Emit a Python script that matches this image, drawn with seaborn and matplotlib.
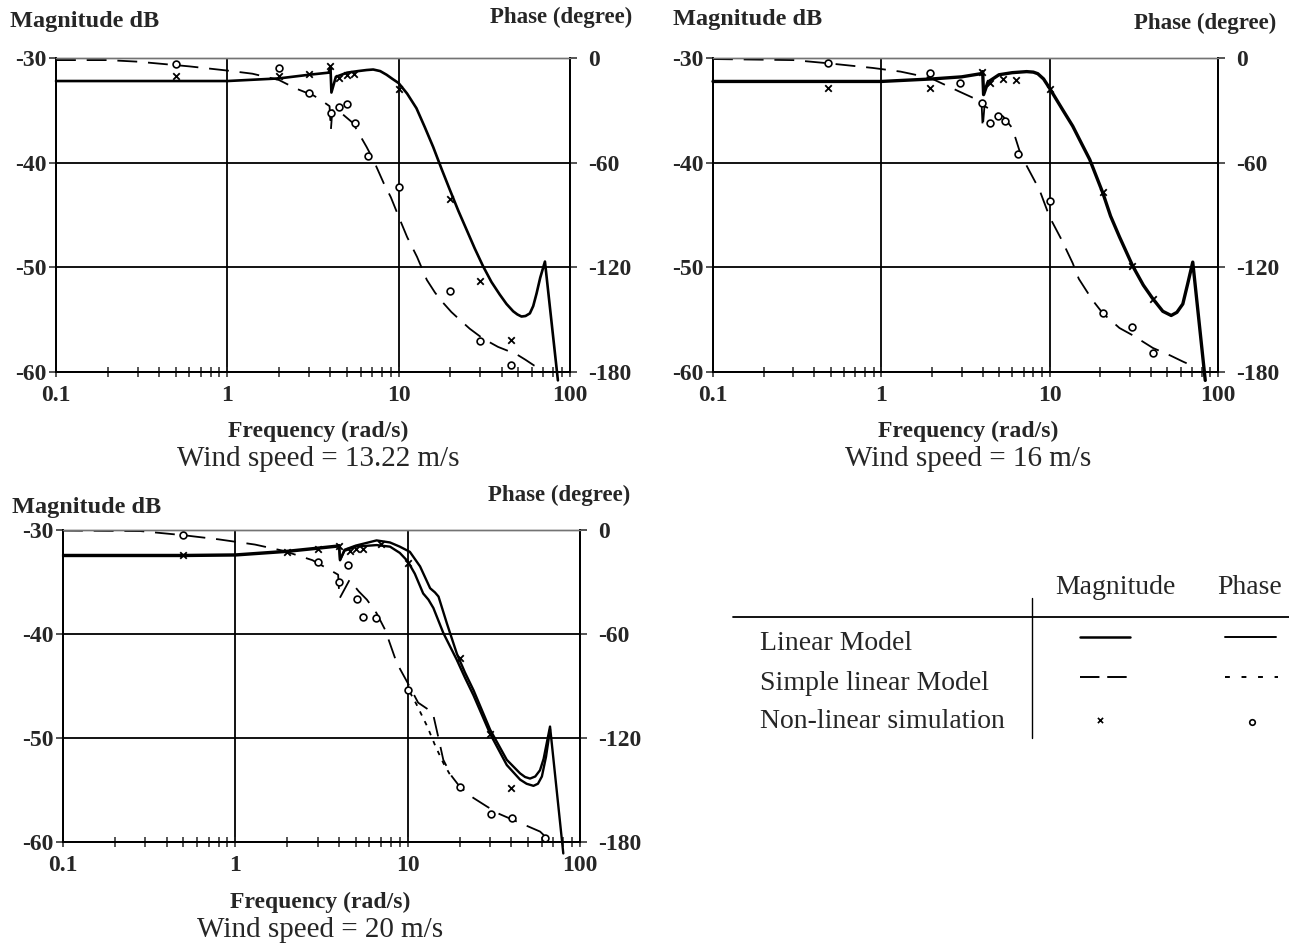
import matplotlib
matplotlib.use("Agg")
import matplotlib.pyplot as plt
import seaborn as sns

W, H = 1289, 950

# --- данные: частота (rad/s), амплитуда (dB), фаза (degree) ---
XTICKS = [0.1, 1, 10, 100]
XTICK_LABELS = ["0.1", "1", "10", "100"]
MAG_TICKS = [-60, -50, -40, -30]
PHASE_TICKS = [-180, -120, -60, 0]

# Wind speed = 13.22 m/s
P1_MAG_F = [0.1, 0.5, 1, 2, 3, 3.9, 4.0, 4.05, 4.3, 5, 5.8, 6.5, 7.1, 7.8, 8.5, 9.2, 10, 11.2,
            12.7, 14.2, 15.9, 17.8, 19.9, 22.3, 24.9, 27.8, 31.1, 34.8, 38.9, 42.6, 46.6, 49.3,
            52.1, 55, 58.3, 61, 63.8, 67, 71.4, 85]
P1_MAG_DB = [-32.2, -32.2, -32.2, -31.95, -31.6, -31.4, -30.9, -33.3, -31.8, -31.4, -31.25, -31.15,
             -31.1, -31.25, -31.6, -32.0, -32.4, -33.4, -34.8, -36.6, -38.5, -40.6, -42.6, -44.6,
             -46.4, -48.2, -49.9, -51.4, -52.6, -53.5, -54.2, -54.5, -54.7, -54.65, -54.4, -53.7,
             -52.5, -51.0, -49.45, -60.8]
P1_PH_F = [0.1, 0.2, 0.3, 0.6, 1.0, 1.4, 2.0, 2.5, 3.2, 3.5, 3.95, 4.02, 4.1, 4.5, 5.4, 6.5, 7.1,
           8.2, 9.0, 10.2, 11.2, 12.8, 14.6, 16.3, 18.2, 20.3, 22.7, 26, 31, 38, 48.7, 55, 62, 68]
P1_PH_DEG = [-1.2, -1.2, -2.1, -4.8, -7.2, -9.0, -12.6, -17.4, -21.6, -24.0, -27.6, -41.4, -30.0,
             -30.6, -37.2, -51.0, -58.2, -72.0, -79.8, -93.0, -102.6, -114.0, -127.2, -134.5,
             -140.4, -145.6, -150.0, -155.2, -160.8, -165.6, -169.8, -173.0, -176.4, -178.2]
P1_CIR_F = [0.5, 2.0, 3.0, 4.05, 4.5, 5.0, 5.55, 6.6, 10, 20, 30, 45]
P1_CIR_DEG = [-3.6, -6.0, -19.8, -31.8, -28.2, -26.4, -37.2, -56.4, -73.8, -133.8, -162.0, -175.8]
P1_X_F = [0.5, 2.0, 3.0, 4.0, 4.5, 5.0, 5.5, 10, 20, 30, 45]
P1_X_DB = [-31.75, -31.7, -31.5, -30.8, -31.9, -31.6, -31.5, -33.0, -43.5, -51.3, -56.9]

# Wind speed = 16 m/s
P2_MAG_F = [0.1, 1, 2, 3, 3.9, 4.0, 4.05, 4.3, 5, 6, 7.3, 8.0, 8.5, 9.2, 10, 11, 12, 13.7, 15.5,
            17.3, 20.7, 23, 26, 31.2, 36, 41, 47, 52.7, 57, 61.8, 66, 70.8, 84]
P2_MAG_DB = [-32.24, -32.24, -32.0, -31.8, -31.5, -31.3, -33.5, -32.3, -31.6, -31.4, -31.3, -31.35,
             -31.5, -32.0, -32.9, -34.0, -35.0, -36.5, -38.2, -39.7, -42.9, -45.1, -47.1, -49.9,
             -51.7, -53.0, -54.2, -54.6, -54.3, -53.5, -51.6, -49.5, -60.8]
P2_PH_F = [0.1, 0.3, 0.48, 0.89, 1.3, 1.95, 2.9, 3.5, 3.94, 4.0, 4.1, 4.8, 5.3, 6.0, 6.6, 7.3,
           8.7, 10, 11.8, 13.7, 14.9, 17.9, 20.7, 26, 31.2, 41, 52, 61.8, 68]
P2_PH_DEG = [-0.6, -1.2, -3.0, -5.7, -7.8, -11.4, -19.2, -22.8, -25.8, -40.2, -27.6, -31.2, -33.6,
             -40.2, -52.8, -61.8, -75.6, -91.2, -104.4, -117.6, -126.6, -138.6, -146.4, -154.8,
             -159.0, -166.2, -170.5, -174.0, -175.8]
P2_CIR_F = [0.48, 1.94, 2.92, 3.94, 4.4, 4.93, 5.45, 6.5, 10, 20.7, 31, 41]
P2_CIR_DEG = [-3.0, -8.4, -14.4, -25.8, -37.2, -33.0, -36.0, -55.2, -82.2, -146.4, -154.2, -169.2]
P2_X_F = [0.48, 1.94, 3.94, 4.4, 5.3, 6.3, 10, 20.7, 31, 41]
P2_X_DB = [-32.9, -32.9, -31.3, -32.4, -32.0, -32.1, -33.0, -42.8, -49.9, -53.0]

# Wind speed = 20 m/s
P3_MAG_A_F = [0.1, 0.5, 1, 2, 3, 3.9, 4.0, 4.05, 4.3, 5, 6.6, 7.9, 9.0, 10.3, 11.8, 13.5, 14.4,
              15.1, 16.9, 19.3, 21.5, 24.1, 30.1, 37.6, 44.9, 48, 51.3, 55, 58.6, 61.5, 64.1, 67, 80]
P3_MAG_A_DB = [-32.4, -32.4, -32.35, -32.0, -31.7, -31.5, -31.45, -32.9, -31.9, -31.5, -31.0, -31.2,
               -31.6, -32.1, -33.5, -35.6, -36.0, -36.4, -39.0, -41.9, -43.7, -45.4, -49.2, -52.1,
               -53.4, -53.75, -53.9, -53.7, -53.1, -52.0, -50.5, -48.9, -61.1]
P3_MAG_B_F = [0.1, 0.5, 1, 2, 3, 3.9, 4.0, 4.05, 4.3, 5, 6.6, 7.9, 9.0, 10, 11.0, 12.3, 13.2, 14.1,
              16.1, 19.3, 21.5, 24.1, 30.1, 37.6, 44.9, 49, 53.7, 57, 60.1, 63.5, 67]
P3_MAG_B_DB = [-32.5, -32.5, -32.45, -32.1, -31.8, -31.6, -31.5, -32.9, -32.0, -31.6, -31.45, -31.6,
               -32.2, -33.0, -34.2, -36.1, -36.7, -37.5, -39.9, -42.5, -44.2, -45.9, -49.6, -52.6,
               -54.0, -54.4, -54.6, -54.4, -53.7, -51.8, -49.2]
P3_PH_F = [0.1, 0.28, 0.5, 0.8, 1.3, 1.9, 2.8, 3.5, 3.95, 4.02, 4.6, 5.2, 5.8, 6.6, 7.4, 8.65, 10,
           11.5, 13, 14.0, 15.0, 16.1, 18, 20.1, 24, 28.9, 34, 41.2, 50, 58.7, 64]
P3_PH_DEG = [-0.3, -0.6, -3.0, -5.4, -8.4, -12.0, -17.4, -22.8, -25.8, -39.6, -28.8, -35.4, -40.2,
             -48.0, -57.6, -76.8, -88.2, -99.6, -103.2, -105.6, -118.8, -132.6, -142.0, -148.2,
             -154.5, -159.6, -163.8, -167.4, -171.0, -174.0, -177.6]
P3_DOT_F = [10.3, 11.2, 13, 14.5, 16.1, 18]
P3_DOT_DEG = [-93.6, -100.2, -113.4, -124.8, -134.4, -142.8]
P3_CIR_F = [0.5, 3.0, 3.98, 4.53, 5.07, 5.53, 6.56, 10, 20.1, 30.3, 40.2, 62.7]
P3_CIR_DEG = [-3.0, -18.6, -30.0, -20.4, -39.6, -50.4, -51.0, -92.4, -148.2, -163.8, -166.2, -177.6]
P3_X_F = [0.5, 2.0, 3.0, 4.0, 4.6, 5.0, 5.5, 7.0, 10, 20, 30, 40]
P3_X_DB = [-32.4, -32.1, -31.8, -31.5, -32.0, -31.8, -31.8, -31.3, -33.2, -42.3, -49.6, -54.8]

TITLES = ["Wind speed = 13.22 m/s", "Wind speed = 16 m/s", "Wind speed = 20 m/s"]

sns.set_style("white")
plt.rcParams['font.family'] = ['Liberation Serif', 'DejaVu Serif']
plt.rcParams['axes.unicode_minus'] = False

DASH = (0, (11, 6))
DOT = (0, (2.5, 3.5))
TICK_FS = 17


def px_rect(left, top, right, bottom):
    # прямоугольник в пикселях -> координаты фигуры
    return [left / W, 1 - bottom / H, (right - left) / W, (bottom - top) / H]


def ftext(x, y, s, **kw):
    fig.text(x / W, 1 - y / H, s, **kw)


def setup_axes(rect):
    ax = fig.add_axes(rect)
    ax.set_xscale('log')
    ax.set_xlim(0.1, 100)
    ax.set_ylim(-60, -30)
    ax2 = ax.twinx()
    ax2.set_ylim(-180, 0)
    ax.set_xticks(XTICKS)
    ax.set_xticklabels(XTICK_LABELS)
    ax.set_yticks(MAG_TICKS)
    ax.set_yticklabels([str(t) for t in MAG_TICKS])
    ax2.set_yticks(PHASE_TICKS)
    ax2.set_yticklabels([str(t) for t in PHASE_TICKS])
    ax.tick_params(axis='x', which='both', direction='inout', length=7, width=1.1,
                   labelsize=TICK_FS, pad=6, bottom=True, top=False)
    ax.tick_params(axis='y', direction='out', length=5, width=1.1, labelsize=TICK_FS, pad=2, left=True)
    ax2.tick_params(axis='y', direction='out', length=5, width=1.1, labelsize=TICK_FS, pad=8, right=True)
    for lab in ax.get_xticklabels() + ax.get_yticklabels() + ax2.get_yticklabels():
        lab.set_fontweight('bold')
    ax.grid(True, which='major', color='black', lw=1.3)
    ax.grid(False, which='minor')
    for a in (ax, ax2):
        for side, sp in a.spines.items():
            sp.set_color('black')
            sp.set_linewidth(1.3)
        a.spines['top'].set_color('0.45')
        a.spines['top'].set_linewidth(1.0)
    return ax, ax2


def draw_mag(ax, f, db, lw=1.9):
    sns.lineplot(x=f, y=db, ax=ax, color='black', linewidth=lw, sort=False,
                 estimator=None, clip_on=False)


def draw_phase(ax2, f, deg, ls=DASH, lw=1.3):
    sns.lineplot(x=f, y=deg, ax=ax2, color='black', linewidth=lw, sort=False,
                 estimator=None, linestyle=ls)


def draw_points(ax, ax2, xf, xdb, cf, cdeg):
    sns.scatterplot(x=xf, y=xdb, ax=ax, marker='x', s=22, color='black', linewidth=1.3, zorder=5)
    sns.scatterplot(x=cf, y=cdeg, ax=ax2, marker='o', s=24, facecolor='white',
                    edgecolor='black', linewidth=1.2, zorder=5)


def clean(ax, ax2):
    for a in (ax, ax2):
        a.set_xlabel('')
        a.set_ylabel('')


fig = plt.figure(figsize=(W / 100, H / 100), dpi=100)

rects = [px_rect(56, 58, 570, 372), px_rect(713, 58, 1218, 372), px_rect(63, 530, 580, 842)]

# панель 1
ax, ax2 = setup_axes(rects[0])
draw_phase(ax2, P1_PH_F, P1_PH_DEG)
draw_mag(ax, P1_MAG_F, P1_MAG_DB)
draw_points(ax, ax2, P1_X_F, P1_X_DB, P1_CIR_F, P1_CIR_DEG)
clean(ax, ax2)

# панель 2
ax, ax2 = setup_axes(rects[1])
draw_phase(ax2, P2_PH_F, P2_PH_DEG)
draw_mag(ax, P2_MAG_F, P2_MAG_DB, lw=2.4)
draw_points(ax, ax2, P2_X_F, P2_X_DB, P2_CIR_F, P2_CIR_DEG)
clean(ax, ax2)

# панель 3
ax, ax2 = setup_axes(rects[2])
draw_phase(ax2, P3_PH_F, P3_PH_DEG)
draw_phase(ax2, P3_DOT_F, P3_DOT_DEG, ls=DOT)
draw_mag(ax, P3_MAG_A_F, P3_MAG_A_DB, lw=1.7)
draw_mag(ax, P3_MAG_B_F, P3_MAG_B_DB, lw=1.7)
draw_points(ax, ax2, P3_X_F, P3_X_DB, P3_CIR_F, P3_CIR_DEG)
clean(ax, ax2)

# подписи
for (lx, ly, rx, ry) in [(10, 22, 632, 17), (673, 20, 1276, 23), (12, 507, 630, 495)]:
    ftext(lx, ly, "Magnitude dB", ha='left', va='center', fontsize=17.5, fontweight='bold')
    ftext(rx, ry, "Phase (degree)", ha='right', va='center', fontsize=16.5, fontweight='bold')

for (cx, fy, wy), title in zip([(318, 431, 459), (968, 431, 459), (320, 902, 930)], TITLES):
    ftext(cx, fy, "Frequency (rad/s)", ha='center', va='center', fontsize=17, fontweight='bold')
    ftext(cx, wy, title, ha='center', va='center', fontsize=21)

# таблица-легенда
lg = fig.add_axes([0, 0, 1, 1])
lg.set_xlim(0, W)
lg.set_ylim(H, 0)
lg.axis('off')
lg.patch.set_alpha(0)
lg.plot([733, 1289], [617, 617], color='black', lw=1.3)
lg.plot([1032, 1032], [598, 738], color='black', lw=1.0)
LEG_FS = 20
ftext(1115, 588, "Magnitude", ha='center', va='center', fontsize=LEG_FS)
ftext(1250, 588, "Phase", ha='center', va='center', fontsize=LEG_FS)
ftext(760, 643, "Linear Model", ha='left', va='center', fontsize=LEG_FS)
ftext(760, 683, "Simple linear Model", ha='left', va='center', fontsize=LEG_FS)
ftext(760, 722, "Non-linear simulation", ha='left', va='center', fontsize=LEG_FS)
lg.plot([1080, 1130], [637, 637], color='black', lw=1.8)
lg.plot([1225, 1276], [637, 637], color='black', lw=1.4)
lg.plot([1080, 1130], [677, 677], color='black', lw=1.4, linestyle=(0, (10, 4)))
lg.plot([1225, 1278], [677, 677], color='black', lw=1.4, linestyle=(0, (2.5, 6)))
lg.scatter([1100], [720], marker='x', s=14, color='black', linewidth=1.2)
lg.scatter([1252], [722], marker='o', s=16, facecolor='white', edgecolor='black', linewidth=1.2)

fig.savefig("out.png", dpi=100)
